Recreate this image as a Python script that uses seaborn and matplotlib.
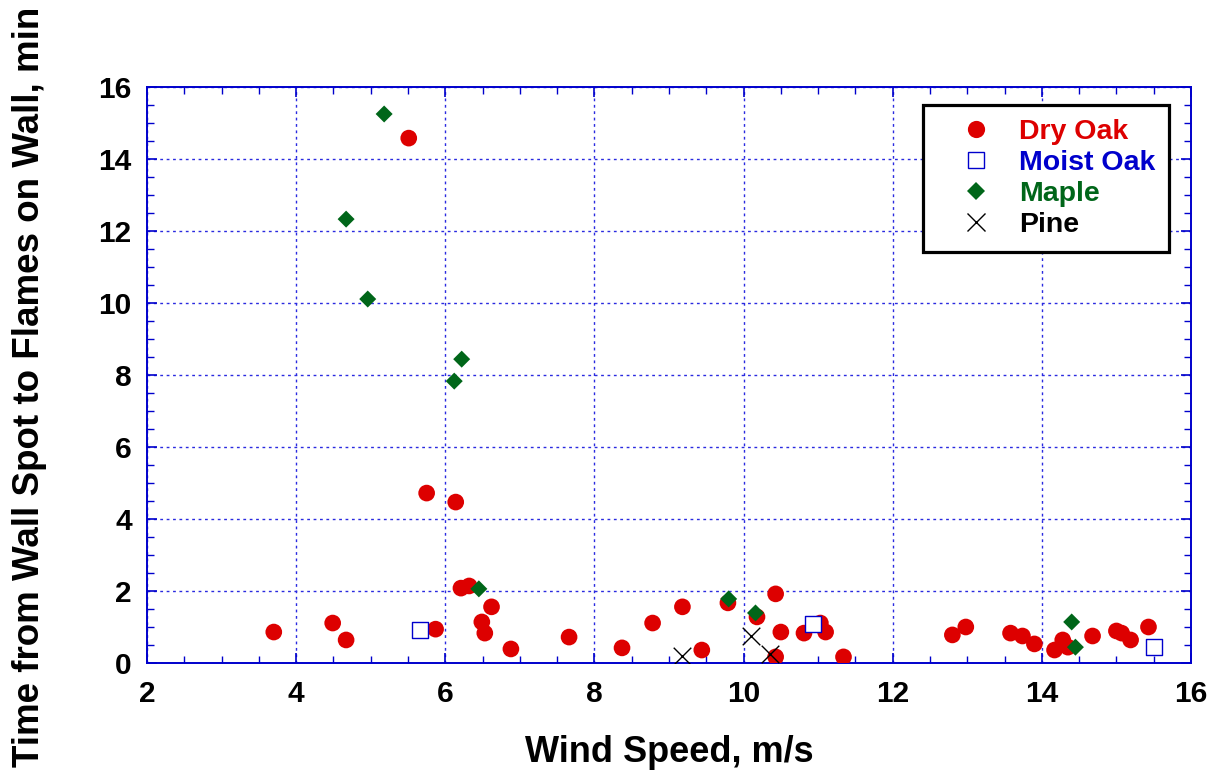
import matplotlib
matplotlib.use("Agg")
import matplotlib.pyplot as plt
import seaborn as sns
import pandas as pd
from matplotlib.ticker import MultipleLocator
from matplotlib.lines import Line2D

# ---- data ----
dry_oak_x = [3.70, 4.49, 4.67, 5.51, 5.75, 5.87, 6.14, 6.21, 6.32, 6.49, 6.53, 6.62,
             6.88, 7.66, 8.37, 8.78, 9.18, 9.44, 9.79, 10.18, 10.43, 10.50, 10.43,
             10.81, 11.03, 11.10, 11.34, 12.80, 12.98, 13.58, 13.74, 13.90, 14.17,
             14.28, 14.35, 14.68, 15.00, 15.07, 15.19, 15.43]
dry_oak_y = [0.86, 1.11, 0.64, 14.58, 4.72, 0.94, 4.47, 2.08, 2.14, 1.14, 0.83, 1.56,
             0.39, 0.72, 0.42, 1.11, 1.56, 0.36, 1.67, 1.28, 1.92, 0.86, 0.17,
             0.83, 1.11, 0.86, 0.17, 0.78, 1.00, 0.83, 0.75, 0.53, 0.36,
             0.64, 0.44, 0.75, 0.89, 0.83, 0.64, 1.00]
moist_oak_x = [5.66, 10.93, 15.50]
moist_oak_y = [0.92, 1.08, 0.44]
maple_x = [5.18, 4.67, 4.96, 6.22, 6.12, 6.45, 9.80, 10.16, 14.40, 14.45]
maple_y = [15.25, 12.33, 10.11, 8.44, 7.83, 2.06, 1.78, 1.39, 1.14, 0.44]
pine_x = [9.17, 10.10, 10.35]
pine_y = [0.19, 0.75, 0.25]

series_names = ["Dry Oak", "Moist Oak", "Maple", "Pine"]
x_ticks = [2, 4, 6, 8, 10, 12, 14, 16]
y_ticks = [0, 2, 4, 6, 8, 10, 12, 14, 16]

df = pd.concat([
    pd.DataFrame({"x": dry_oak_x, "y": dry_oak_y, "s": series_names[0]}),
    pd.DataFrame({"x": moist_oak_x, "y": moist_oak_y, "s": series_names[1]}),
    pd.DataFrame({"x": maple_x, "y": maple_y, "s": series_names[2]}),
    pd.DataFrame({"x": pine_x, "y": pine_y, "s": series_names[3]}),
], ignore_index=True)

sns.set_style("white")
plt.rcParams["font.family"] = ["Liberation Sans", "DejaVu Sans"]
plt.rcParams["font.weight"] = "bold"

fig = plt.figure(figsize=(12.22, 7.75), dpi=100)
ax = fig.add_axes([147 / 1222, 1 - 663 / 775, 1044 / 1222, 576 / 775])

RED = "#dd0000"
BLUE = "#0000cc"
GREEN = "#006619"
BLACK = "#000000"
AXBLUE = "#0000cc"

styles = {
    "Dry Oak": dict(marker="o", s=144, color=RED, edgecolor="none", linewidth=0),
    "Moist Oak": dict(marker="s", s=135, facecolor="white", edgecolor=BLUE, linewidth=1.0),
    "Maple": dict(marker="D", s=75, color=GREEN, edgecolor="none", linewidth=0),
    "Pine": dict(marker="x", s=160, color=BLACK, linewidth=1.0),
}
for i, name in enumerate(series_names):
    sub = df[df["s"] == name]
    sns.scatterplot(data=sub, x="x", y="y", ax=ax, legend=False, zorder=3 + i,
                    **styles[name])

ax.set_xlim(2, 16)
ax.set_ylim(0, 16)
ax.set_xticks(x_ticks)
ax.set_yticks(y_ticks)
ax.xaxis.set_minor_locator(MultipleLocator(0.5))
ax.yaxis.set_minor_locator(MultipleLocator(0.5))

ax.grid(True, which="major", color="#2a2ae0", linestyle=(0, (2, 2.6)), linewidth=1.0, zorder=1)
ax.set_axisbelow(True)

for sp in ax.spines.values():
    sp.set_color(AXBLUE)
    sp.set_linewidth(1.4)
    sp.set_visible(True)

ax.tick_params(which="both", direction="in", top=True, right=True, color=AXBLUE,
               bottom=True, left=True)
ax.tick_params(which="major", length=7, width=1.2, labelsize=21.5, labelcolor="black")
ax.tick_params(axis="y", which="major", pad=11)
ax.tick_params(axis="x", which="major", pad=12)
ax.tick_params(which="minor", length=5, width=1.0)
for lab in ax.get_xticklabels() + ax.get_yticklabels():
    lab.set_fontweight("bold")

ax.set_xlabel("Wind Speed, m/s", fontsize=26, fontweight="bold", color="black")
ax.set_ylabel("Time from Wall Spot to Flames on Wall, min", fontsize=26.5,
              fontweight="bold", color="black")
ax.xaxis.set_label_coords(0.5, -0.125)
ax.yaxis.set_label_coords(-0.0955, 0.48)

handles = [
    Line2D([], [], linestyle="none", marker="o", markersize=12.4, color=RED, markeredgewidth=0),
    Line2D([], [], linestyle="none", marker="s", markersize=12, markerfacecolor="white",
           markeredgecolor=BLUE, markeredgewidth=1.0),
    Line2D([], [], linestyle="none", marker="D", markersize=8.8, color=GREEN, markeredgewidth=0),
    Line2D([], [], linestyle="none", marker="x", markersize=12.8, color=BLACK, markeredgewidth=1.0),
]
leg = ax.legend(handles, series_names, loc="upper left", bbox_to_anchor=(0.743, 0.969),
                borderaxespad=0, borderpad=0.5, handlelength=2.72, handletextpad=0.15,
                labelspacing=0.17, fancybox=False, framealpha=1, edgecolor="black",
                labelcolor=[RED, BLUE, GREEN, BLACK], prop={"weight": "bold", "size": 20.5})
leg.get_frame().set_linewidth(2.3)
leg.set_zorder(10)

fig.savefig("out.png", dpi=100)
